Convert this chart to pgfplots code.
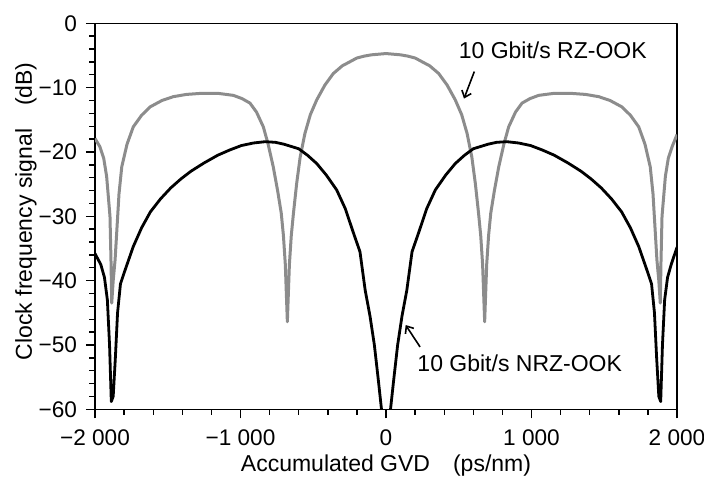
\documentclass[border=0pt]{standalone}
\usepackage{fontspec}
\setmainfont{Liberation Sans}
\usepackage{pgfplots}
\pgfplotsset{compat=1.18}
\usetikzlibrary{arrows.meta}
\definecolor{rzgray}{RGB}{140,140,140}
\begin{document}
\begin{tikzpicture}[font=\fontsize{11.5}{13}\selectfont]
\path[use as bounding box] (-47.5pt,-34pt) rectangle (304.5pt,204.65pt);
\begin{axis}[
 scale only axis, width=291pt, height=193pt,
 xmin=-2000, xmax=2000, ymin=-60, ymax=0,
 xtick={-2000,-1000,0,1000,2000},
 xticklabels={−2 000,−1 000,0,1 000,2 000},
 ytick={-60,-50,-40,-30,-20,-10,0},
 yticklabels={−60,−50,−40,−30,−20,−10,0},
 minor x tick num=4, minor y tick num=4,
 tick align=outside, tick pos=left,
 major tick length=4.5pt, minor tick length=2.8pt,
 axis line style={line width=0.7pt},
 every tick/.style={black, line width=0.7pt},
 tick label style={font=\fontsize{11.3}{13}\selectfont},
 xticklabel style={yshift=-2pt},
 yticklabel style={xshift=-1pt},
 label style={font=\fontsize{11.5}{13}\selectfont},
 xlabel={Accumulated GVD\quad(ps/nm)},
 ylabel={Clock frequency signal\quad(dB)},
 xlabel style={at={(axis description cs:0.5,-0.147)}, anchor=center},
 ylabel style={at={(axis description cs:-0.1186,0.513)}, anchor=center},
 line join=round,
]
\addplot[rzgray, line width=1.5pt] coordinates {
(-2000,-17.9) (-1966,-19.2) (-1940,-21) (-1920,-23.8) (-1897,-30) (-1890,-37) (-1885,-43.5)
(-1875,-40) (-1862,-36.8) (-1851,-32.6) (-1835,-26.5) (-1816,-22.3) (-1780,-18.8) (-1737,-16.1)
(-1680,-14.3) (-1622,-13.0) (-1540,-12.0) (-1462,-11.4) (-1370,-11.05) (-1278,-10.9)
(-1150,-10.9) (-1049,-11.2) (-990,-11.7) (-935,-12.4) (-890,-13.8) (-843,-16.1) (-810,-18.8)
(-775,-22.3) (-745,-26) (-720,-29.5) (-705,-33) (-692,-37.5) (-678,-46.4) (-664,-37.5)
(-651,-33) (-636,-29.5) (-614,-24.9) (-590,-20.8) (-557,-17.1) (-520,-14.2) (-476,-11.9)
(-420,-9.6) (-362,-7.8) (-300,-6.6) (-250,-6.0) (-201,-5.4) (-150,-5.1) (-100,-4.9) (0,-4.7)
(100,-4.9) (150,-5.1) (201,-5.4) (250,-6.0) (300,-6.6) (362,-7.8) (420,-9.6) (476,-11.9)
(520,-14.2) (557,-17.1) (590,-20.8) (614,-24.9) (636,-29.5) (651,-33) (664,-37.5) (678,-46.4)
(692,-37.5) (705,-33) (720,-29.5) (745,-26) (775,-22.3) (810,-18.8) (843,-16.1) (890,-13.8)
(935,-12.4) (990,-11.7) (1049,-11.2) (1150,-10.9) (1278,-10.9) (1370,-11.05) (1462,-11.4)
(1540,-12.0) (1622,-13.0) (1680,-14.3) (1737,-16.1) (1780,-18.8) (1816,-22.3) (1835,-26.5)
(1851,-32.6) (1862,-36.8) (1875,-40) (1885,-43.5) (1890,-37) (1897,-30) (1920,-23.8)
(1940,-21) (1966,-19.2) (2000,-17.3)
};
\addplot[black, line width=1.4pt] coordinates {
(-2000,-35.8) (-1960,-37.5) (-1935,-39.5) (-1915,-43) (-1900,-50) (-1888,-58.8) (-1875,-58)
(-1860,-52) (-1845,-45) (-1825,-40.5) (-1800,-38.8) (-1737,-34.7) (-1680,-31.8) (-1619,-29.3)
(-1550,-27.3) (-1480,-25.6) (-1410,-24.2) (-1341,-23) (-1250,-21.7) (-1156,-20.5)
(-1075,-19.7) (-994,-19.0) (-910,-18.6) (-830,-18.4) (-760,-18.5) (-700,-18.8) (-600,-19.5)
(-540,-20.5) (-476,-21.8) (-410,-23.6) (-339,-25.9) (-280,-28.8) (-225,-32.5) (-179,-35.5)
(-143,-41.5) (-110,-45.5) (-80,-50) (-53,-55.4) (-32,-59.8) (-20,-62) (0,-70)
(20,-62) (32,-59.8) (53,-55.4) (80,-50) (110,-45.5) (143,-41.5) (179,-35.5) (225,-32.5)
(280,-28.8) (339,-25.9) (410,-23.6) (476,-21.8) (540,-20.5) (600,-19.5) (700,-18.8)
(760,-18.5) (830,-18.4) (910,-18.6) (994,-19.0) (1075,-19.7) (1156,-20.5) (1250,-21.7)
(1341,-23) (1410,-24.2) (1480,-25.6) (1550,-27.3) (1619,-29.3) (1680,-31.8) (1737,-34.7)
(1800,-38.8) (1825,-40.5) (1845,-45) (1860,-52) (1875,-58) (1888,-58.8) (1900,-50)
(1915,-43) (1935,-39.5) (1960,-37.5) (2000,-34.8)
};
\node at (axis cs:1146,-4.26) {10 Gbit/s RZ-OOK};
\draw[-{Straight Barb[length=3pt,width=5pt]}, line width=0.8pt] (axis cs:607,-7.5) -- (axis cs:536,-11.7);
\node at (axis cs:919,-52.8) {10 Gbit/s NRZ-OOK};
\draw[-{Straight Barb[length=3pt,width=5pt]}, line width=0.8pt] (axis cs:234,-50.3) -- (axis cs:135,-46.9);
\end{axis}
\end{tikzpicture}
\end{document}
